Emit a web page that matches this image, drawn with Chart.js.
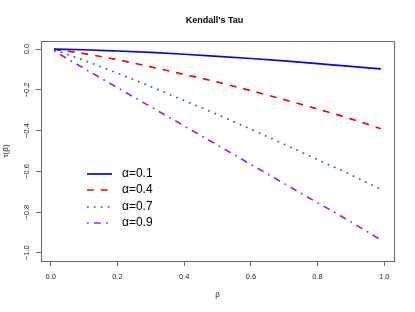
<!DOCTYPE html>
<html>
<head>
<meta charset="utf-8">
<script src="https://cdn.jsdelivr.net/npm/chart.js@4/dist/chart.umd.min.js"></script>
<style>
html, body { margin: 0; padding: 0; background: #fff; }
#wrap { width: 415px; height: 312px; }
</style>
</head>
<body>
<div id="wrap"><canvas id="kendall"></canvas></div>
<script>
// values
var beta = [0.01, 0.1, 0.2, 0.3, 0.4, 0.5, 0.6, 0.7, 0.8, 0.9, 0.99]
var tauA01 = [0, -0.003, -0.009, -0.016, -0.025, -0.035, -0.046, -0.058, -0.071, -0.085, -0.097]
var tauA04 = [-0.001, -0.022, -0.052, -0.087, -0.124, -0.162, -0.204, -0.248, -0.294, -0.342, -0.391]
var tauA07 = [-0.003, -0.055, -0.118, -0.184, -0.252, -0.321, -0.393, -0.467, -0.542, -0.617, -0.689]
var tauA09 = [-0.009, -0.095, -0.189, -0.283, -0.377, -0.471, -0.566, -0.660, -0.754, -0.848, -0.937]

var seriesNames = ['α=0.1', 'α=0.4', 'α=0.7', 'α=0.9']
var xTicks = [0, 0.2, 0.4, 0.6, 0.8, 1.0]
var yTicks = [0, -0.2, -0.4, -0.6, -0.8, -1.0]

var colors = ['#0000FF', '#FF0000', '#1E7F1E', '#A020F0']
var dashes = [[], [6.9, 6.9], [1.7, 5.2], [1.7, 5.2, 6.9, 5.2]]
var FONT = '"Liberation Sans", Arial, sans-serif'

function pairs(ys) {
    return beta.map(function (b, i) { return { x: b, y: ys[i] } })
}

var allSeries = [tauA01, tauA04, tauA07, tauA09]
var datasets = allSeries.map(function (s, i) {
    return {
        label: seriesNames[i],
        data: pairs(s),
        borderColor: colors[i],
        borderWidth: 1.7,
        borderDash: dashes[i],
        pointRadius: 0,
        fill: false,
        cubicInterpolationMode: 'monotone'
    }
})

// R style box, titles, rotated y labels and the in-plot legend
var decor = {
    id: 'decor',
    afterDraw: function (chart) {
        var ctx = chart.ctx, a = chart.chartArea
        var ys = chart.scales.y
        ctx.save()
        ctx.strokeStyle = '#6a6a6a'
        ctx.lineWidth = 1
        ctx.setLineDash([])
        ctx.strokeRect(Math.round(a.left) + 0.5, Math.round(a.top) + 0.5,
            Math.round(a.right - a.left), Math.round(a.bottom - a.top))

        var cx = (a.left + a.right) / 2
        ctx.fillStyle = '#000'
        ctx.textAlign = 'center'
        ctx.textBaseline = 'middle'
        ctx.font = 'bold 9px ' + FONT
        ctx.fillText("Kendall's Tau", cx - 3, 21)

        ctx.font = '8px ' + FONT
        ctx.fillStyle = '#222'
        ctx.fillText('β', cx, 295)

        ctx.save()
        ctx.translate(6, (a.top + a.bottom) / 2)
        ctx.rotate(-Math.PI / 2)
        ctx.fillText('τ(β)', 0, 0)
        ctx.restore()

        ctx.font = '7.5px ' + FONT
        yTicks.forEach(function (v) {
            var py = ys.getPixelForValue(v)
            ctx.save()
            ctx.translate(27, py)
            ctx.rotate(-Math.PI / 2)
            ctx.fillText(v === 0 ? '0.0' : '\u2212' + Math.abs(v).toFixed(1), 0, 0)
            ctx.restore()
        })

        // legend
        ctx.textAlign = 'left'
        ctx.font = '12px ' + FONT
        var rows = [133, 149, 166, 182]
        chart.data.datasets.forEach(function (ds, i) {
            var y = a.top + rows[i]
            ctx.strokeStyle = ds.borderColor
            ctx.lineWidth = ds.borderWidth
            ctx.setLineDash(ds.borderDash)
            ctx.beginPath()
            ctx.moveTo(a.left + 46, y)
            ctx.lineTo(a.left + 71, y)
            ctx.stroke()
            ctx.fillStyle = '#000'
            ctx.fillText(ds.label, a.left + 81, y)
        })
        ctx.restore()
    }
}

new Chart(document.getElementById('kendall'), {
    type: 'line',
    data: { datasets: datasets },
    options: {
        responsive: true,
        maintainAspectRatio: false,
        animation: false,
        devicePixelRatio: 1,
        layout: { padding: { top: 41, right: 21, left: 0, bottom: 0 } },
        plugins: {
            legend: { display: false },
            title: { display: false },
            tooltip: { enabled: false }
        },
        scales: {
            x: {
                type: 'linear',
                min: -0.0292,
                max: 1.0292,
                afterBuildTicks: function (scale) {
                    scale.ticks = xTicks.map(function (v) { return { value: v } })
                },
                afterFit: function (scale) { scale.height = 51 },
                border: { display: false },
                grid: { drawOnChartArea: false, drawTicks: true, tickLength: 5, tickColor: '#6a6a6a' },
                ticks: {
                    padding: 6,
                    maxRotation: 0,
                    color: '#222',
                    font: { family: FONT, size: 7.5 },
                    callback: function (v) { return Number(v).toFixed(1) }
                }
            },
            y: {
                type: 'linear',
                min: -1.04,
                max: 0.04,
                afterBuildTicks: function (scale) {
                    scale.ticks = yTicks.map(function (v) { return { value: v } })
                },
                afterFit: function (scale) { scale.width = 41 },
                border: { display: false },
                grid: { drawOnChartArea: false, drawTicks: true, tickLength: 5, tickColor: '#6a6a6a' },
                ticks: { display: false }
            }
        }
    },
    plugins: [decor]
})
</script>
</body>
</html>
